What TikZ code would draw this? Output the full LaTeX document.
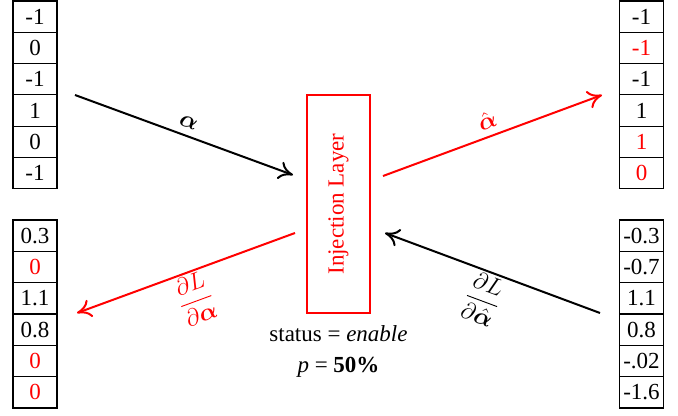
\documentclass[tikz,border=0pt]{standalone}
\usepackage{amsmath,amssymb}
\usepackage{fontspec}
\setmainfont{Liberation Serif}
\usetikzlibrary{arrows.meta,positioning}
\tikzset{
  every node/.style={font=\fontsize{11.5}{13.5}\selectfont},
  numcell/.style={draw, line width=0.6pt, minimum width=22pt, minimum height=15.65pt, inner sep=0pt},
  injbox/.style={draw=red, line width=1pt, minimum width=31.5pt, minimum height=109pt, inner sep=0pt, text=red},
  flow/.style={-{To[length=2.5mm,width=3.2mm]}, line width=1pt},
}

\begin{document}
\begin{tikzpicture}[x=0.5pt, y=-0.5pt]
  \useasboundingbox (0,0) rectangle (678,416);

  % input / output vectors
  \foreach \v/\c [count=\i] in {-1/black,0/black,-1/black,1/black,0/black,-1/black}
    \node[numcell, text=\c] (in\i) at (35,{1+31.3*(\i-0.5)}) {\v};
  \foreach \v/\c [count=\i] in {-1/black,-1/red,-1/black,1/black,1/red,0/red}
    \node[numcell, text=\c] (out\i) at (641.5,{1+31.3*(\i-0.5)}) {\v};
  \foreach \v/\c [count=\i] in {0.3/black,0/red,1.1/black,0.8/black,0/red,0/red}
    \node[numcell, text=\c] (gin\i) at (35,{220+31.33*(\i-0.5)}) {\v};
  \foreach \v/\c [count=\i] in {-0.3/black,-0.7/black,1.1/black,0.8/black,-.02/black,-1.6/black}
    \node[numcell, text=\c] (gout\i) at (641.5,{220+31.33*(\i-0.5)}) {\v};

  \node[injbox] (inj) at (338.5,204) {\rotatebox{90}{Injection Layer}};
  \node[align=center, below=2pt of inj] (stat) {status = \textit{enable}\\[2pt] \textit{p} = \textbf{50\%}};

  % arrow ends
  \coordinate (aS) at (75,95);
  \coordinate (aE) at (293,175);
  \coordinate (hS) at (383,176);
  \coordinate (hE) at (602,95);
  \coordinate (gS) at (295,233);
  \coordinate (gE) at (77,313);
  \coordinate (ghS) at (600,313);
  \coordinate (ghE) at (385,233);

  \draw[flow] (aS) -- (aE) node[midway, above, sloped] {$\boldsymbol{\alpha}$};
  \draw[flow, red] (hS) -- (hE) node[midway, above, sloped] {$\hat{\boldsymbol{\alpha}}$};
  \draw[flow, red] (gS) -- (gE) node[midway, below, sloped, inner sep=1pt] {$\dfrac{\partial L}{\partial\boldsymbol{\alpha}}$};
  \draw[flow] (ghS) -- (ghE) node[midway, below, sloped, inner sep=1pt] {$\dfrac{\partial L}{\partial\hat{\boldsymbol{\alpha}}}$};
\end{tikzpicture}
\end{document}
